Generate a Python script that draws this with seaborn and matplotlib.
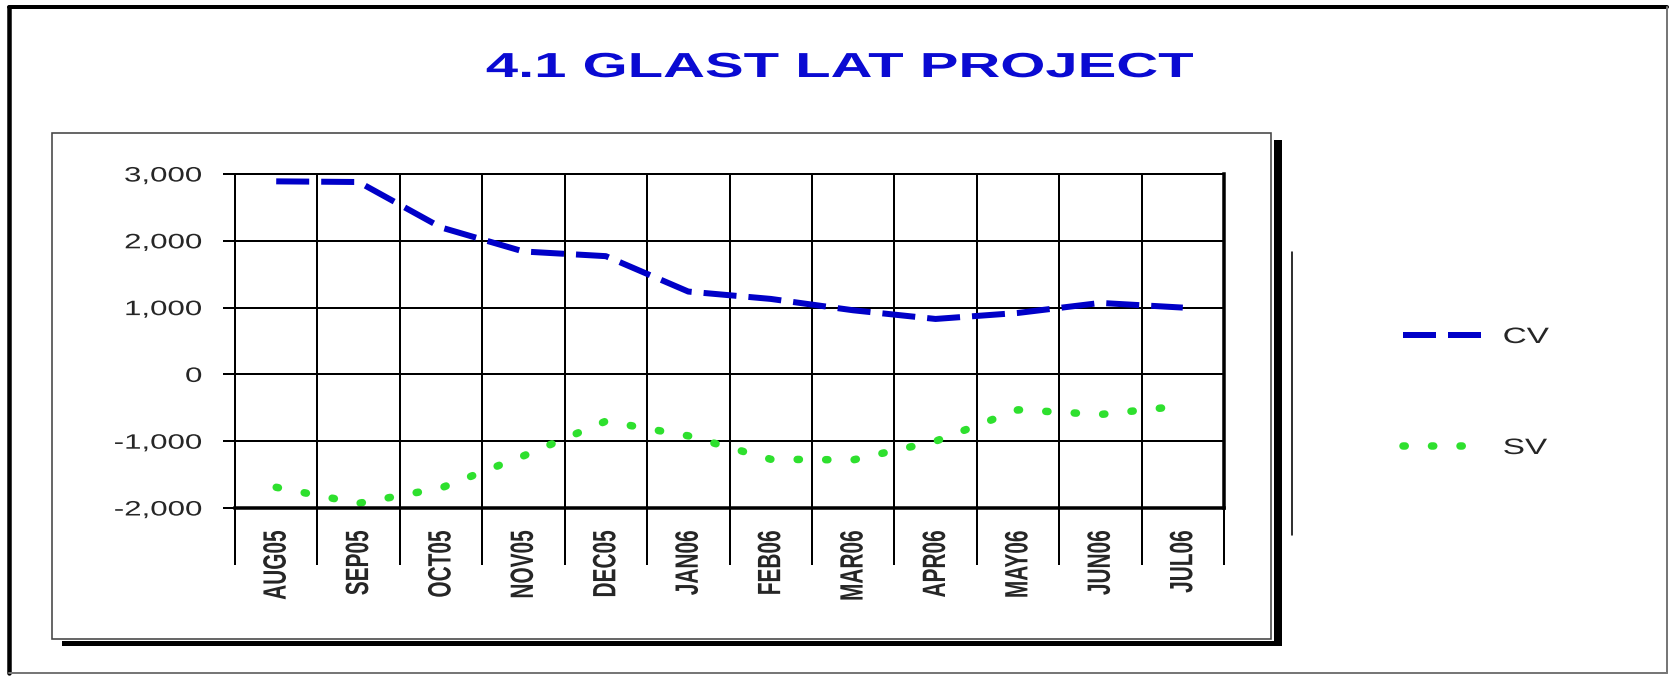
import pandas as pd
import matplotlib
matplotlib.use("Agg")
import matplotlib.pyplot as plt
import seaborn as sns
from matplotlib.lines import Line2D
from matplotlib.patches import Rectangle
from matplotlib.patheffects import AbstractPathEffect
from matplotlib.path import Path
from matplotlib.transforms import Affine2D

months = ["AUG05", "SEP05", "OCT05", "NOV05", "DEC05", "JAN06",
          "FEB06", "MAR06", "APR06", "MAY06", "JUN06", "JUL06"]
cv = [2890, 2880, 2200, 1840, 1770, 1240, 1130, 960, 830, 920, 1070, 1000]
sv = [-1690, -1930, -1700, -1220, -700, -920, -1270, -1280, -1000, -530, -600, -470]
y_ticks = [-2000, -1000, 0, 1000, 2000, 3000]
title = "4.1 GLAST LAT PROJECT"

W, H = 1675, 676
BLUE = "#0000c8"
GREEN = "#2ee02e"
TITLE_BLUE = "#0a0ad2"


class Widen(AbstractPathEffect):
    # the source chart was stretched sideways, so stretch the glyphs too
    def __init__(self, factor, anchor="center"):
        super().__init__()
        self.factor = factor
        self.anchor = anchor

    def draw_path(self, renderer, gc, tpath, affine, rgbFace=None):
        verts = tpath.vertices
        if tpath.codes is not None:
            verts = verts[tpath.codes != Path.CLOSEPOLY]
        if len(verts) == 0:
            return
        xs = affine.transform(verts)[:, 0]
        if self.anchor == "left":
            x0 = xs.min()
        elif self.anchor == "right":
            x0 = xs.max()
        else:
            x0 = (xs.min() + xs.max()) / 2
        stretch = Affine2D().translate(-x0, 0).scale(self.factor, 1).translate(x0, 0)
        renderer.draw_path(gc, tpath, affine + stretch, rgbFace)


def fx(px):
    return px / W


def fy(py):
    return 1 - py / H


def pt(px):
    return px * 0.72


sns.set_style("white")
plt.rcParams["font.family"] = ["Liberation Sans", "DejaVu Sans"]

df = pd.DataFrame({
    "month": months * 2,
    "value": cv + sv,
    "series": ["CV"] * len(cv) + ["SV"] * len(sv),
})

fig = plt.figure(figsize=(W / 100, H / 100), dpi=100)
fig.patch.set_facecolor("white")
ax = fig.add_axes([fx(235), fy(508), fx(1224) - fx(235), fy(174) - fy(508)])

sns.lineplot(data=df, x="month", y="value", hue="series", style="series",
             palette={"CV": BLUE, "SV": GREEN},
             dashes={"CV": (5.5, 2.0), "SV": (0.3, 3.5)},
             sort=False, legend=False, ax=ax)

cv_line, sv_line = ax.lines[0], ax.lines[1]
cv_line.set_linewidth(pt(6))
cv_line.set_dash_capstyle("butt")
sv_line.set_linewidth(pt(7.5))
sv_line.set_dash_capstyle("round")

ax.set_xlim(-0.5, len(months) - 0.5)
ax.set_ylim(y_ticks[0], y_ticks[-1])
ax.set_xlabel("")
ax.set_ylabel("")

ax.set_xticks(range(len(months)))
ax.set_xticklabels(months, rotation=90, fontsize=15, fontweight="bold")
ax.set_xticks([i - 0.5 for i in range(len(months) + 1)], minor=True)
ax.set_yticks(y_ticks)
ax.set_yticklabels([f"{v:,}" for v in y_ticks], fontsize=15)

ax.tick_params(axis="x", which="major", length=0, pad=16)
ax.tick_params(axis="x", which="minor", direction="out", length=41,
               width=pt(2), color="black", bottom=True)
ax.tick_params(axis="y", which="major", direction="out", length=pt(12),
               width=pt(2), color="black", left=True, pad=15)

ax.grid(False)
ax.grid(True, axis="y", which="major", color="black", linewidth=pt(2))
ax.grid(True, axis="x", which="minor", color="black", linewidth=pt(2))

for side, w in [("left", 2), ("top", 2), ("right", 3.5), ("bottom", 3.5)]:
    ax.spines[side].set_visible(True)
    ax.spines[side].set_color("black")
    ax.spines[side].set_linewidth(pt(w))

for lab in ax.get_xticklabels():
    lab.set_path_effects([Widen(1.55)])
for lab in ax.get_yticklabels():
    lab.set_path_effects([Widen(1.5, "right")])

leg = ax.legend(handles=[cv_line, sv_line], labels=["CV", "SV"],
                loc="center left", bbox_to_anchor=(fx(1403), fy(393)),
                bbox_transform=fig.transFigure, frameon=False, fontsize=16,
                borderpad=0, borderaxespad=0, handlelength=3.56,
                handletextpad=0.95, labelspacing=4.05)
leg.get_lines()[0].set_dash_capstyle("butt")
leg.get_lines()[1].set_dash_capstyle("round")
for t in leg.get_texts():
    t.set_path_effects([Widen(1.5, "left")])

fig.text(fx(840), fy(77), title, ha="center", va="baseline", fontsize=25,
         fontweight="bold", color=TITLE_BLUE, path_effects=[Widen(1.67)])

# page border: heavy top/left, light right/bottom
fig.add_artist(Line2D([fx(9), fx(9)], [fy(7), fy(673)], color="black", lw=pt(4.5)))
fig.add_artist(Line2D([fx(9), fx(1667)], [fy(7), fy(7)], color="black", lw=pt(4)))
fig.add_artist(Line2D([fx(1667), fx(1667)], [fy(7), fy(673)], color="#777777", lw=pt(2)))
fig.add_artist(Line2D([fx(9), fx(1667)], [fy(673), fy(673)], color="#777777", lw=pt(2)))

# chart area box with drop shadow
fig.add_artist(Rectangle((fx(52), fy(639)), fx(1271) - fx(52), fy(133) - fy(639),
                         fill=False, ec="#444444", lw=pt(1.6)))
fig.add_artist(Rectangle((fx(1274), fy(646)), fx(1282) - fx(1274), fy(140) - fy(646),
                         fc="black", ec="none"))
fig.add_artist(Rectangle((fx(62), fy(646)), fx(1282) - fx(62), fy(641) - fy(646),
                         fc="black", ec="none"))
fig.add_artist(Line2D([fx(1292), fx(1292)], [fy(252), fy(535)], color="black", lw=pt(1.6)))

fig.savefig("out.png", dpi=100, facecolor="white")
